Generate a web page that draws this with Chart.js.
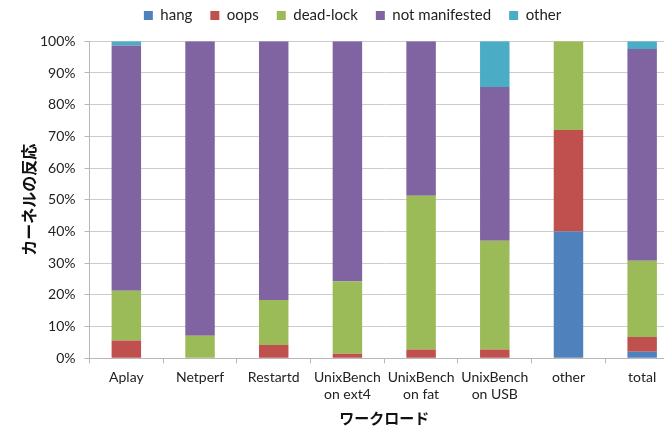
<!DOCTYPE html>
<html>
<head>
<meta charset="utf-8">
<script src="https://cdn.jsdelivr.net/npm/chart.js@4.4.1/dist/chart.umd.min.js"></script>
<style>
  html, body { margin: 0; padding: 0; background: #fff; overflow: hidden; }
  .wrap { position: relative; width: 679px; height: 427px; }
</style>
</head>
<body>
<div class="wrap"><canvas id="myChart"></canvas></div>
<script>
// workloads on the x axis
const workloads = ['Aplay', 'Netperf', 'Restartd', ['UnixBench', 'on ext4'], ['UnixBench', 'on fat'], ['UnixBench', 'on USB'], 'other', 'total'];

// share of each kernel reaction per workload (%)
const hang          = [0,    0,    0,    0,    0,    0,    40, 2.1];
const oops          = [5.6,  0,    4.2,  1.4,  2.8,  2.8,  32, 4.6];
const deadLock      = [15.7, 7.1,  14.2, 22.8, 48.5, 34.3, 28, 24.1];
const notManifested = [77.4, 92.9, 81.6, 75.8, 48.7, 48.5, 0,  66.8];
const other         = [1.3,  0,    0,    0,    0,    14.4, 0,  2.4];

const yTicks = [0, 10, 20, 30, 40, 50, 60, 70, 80, 90, 100];

Chart.defaults.font.family = 'Lato, sans-serif';
Chart.defaults.color = '#222';

// move the legend a bit (centre + top)
const legendShift = {
  id: 'legendShift',
  afterLayout(chart) {
    const lg = chart.legend;
    if (!lg) return;
    lg.left += 13; lg.right += 13;
    lg.top -= 10; lg.bottom -= 10;
  }
};

const ctx = document.getElementById('myChart');

new Chart(ctx, {
  type: 'bar',
  data: {
    labels: workloads,
    datasets: [
      { label: 'hang', data: hang, backgroundColor: '#4F81BD' },
      { label: 'oops', data: oops, backgroundColor: '#C0504D' },
      { label: 'dead-lock', data: deadLock, backgroundColor: '#9BBB59' },
      { label: 'not manifested', data: notManifested, backgroundColor: '#8064A2' },
      { label: 'other', data: other, backgroundColor: '#4BACC6' }
    ]
  },
  plugins: [legendShift],
  options: {
    responsive: true,
    maintainAspectRatio: false,
    animation: false,
    categoryPercentage: 1,
    barPercentage: 0.4,
    layout: { padding: 0 },
    plugins: {
      legend: {
        position: 'top',
        maxHeight: 41.3,
        labels: {
          boxWidth: 9,
          boxHeight: 9,
          padding: 18,
          font: { size: 15 },
          color: '#222'
        }
      },
      tooltip: { enabled: false }
    },
    scales: {
      x: {
        stacked: true,
        afterFit: (scale) => { scale.height = 68.7; },
        grid: {
          offset: true,
          drawOnChartArea: false,
          tickLength: 5,
          color: '#b8b8b8'
        },
        border: { color: '#b8b8b8' },
        ticks: {
          padding: 6,
          font: { size: 14 },
          color: '#222',
          maxRotation: 0,
          autoSkip: false
        },
        title: {
          display: true,
          text: 'ワークロード',
          font: { family: '"Noto Sans CJK JP"', size: 15, weight: 'bold' },
          color: '#111',
          padding: { top: 0, bottom: 0 }
        }
      },
      y: {
        stacked: true,
        min: 0,
        max: 100,
        afterFit: (scale) => { scale.width = 89.5; },
        afterBuildTicks: (scale) => { scale.ticks = yTicks.map(v => ({ value: v })); },
        grid: {
          color: '#cccccc',
          tickLength: 5,
          tickColor: '#b8b8b8'
        },
        border: { color: '#b8b8b8' },
        ticks: {
          padding: 9,
          font: { size: 14 },
          color: '#222',
          callback: (v) => v + '%'
        },
        title: {
          display: true,
          text: 'カーネルの反応',
          font: { family: '"Noto Sans CJK JP"', size: 16, weight: 'bold' },
          color: '#111',
          padding: { top: 19, bottom: 0 }
        }
      }
    }
  }
});
</script>
</body>
</html>
